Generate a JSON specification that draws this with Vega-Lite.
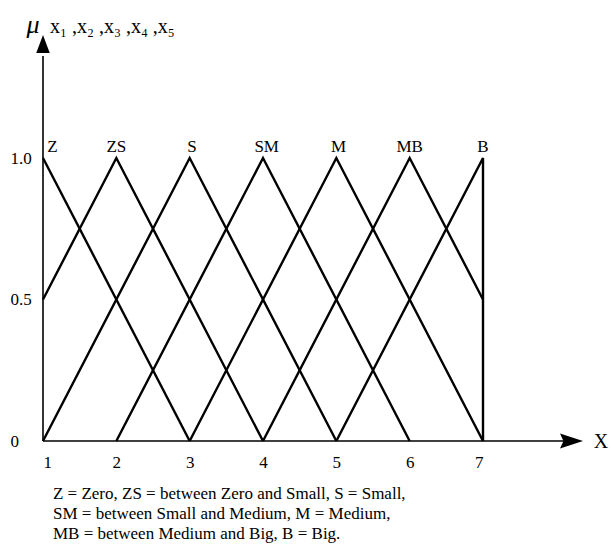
{
  "$schema": "https://vega.github.io/schema/vega-lite/v6.json",
  "width": 440,
  "height": 283,
  "autosize": {"type": "none"},
  "padding": {"left": 43, "top": 158, "right": 128, "bottom": 116},
  "background": "white",
  "config": {
    "view": {"stroke": null},
    "font": "Liberation Serif",
    "text": {"font": "Liberation Serif", "color": "black", "baseline": "middle"}
  },
  "datasets": {
    "membership": [
      {"set": "Z", "i": 0, "x": 1, "y": 1},
      {"set": "Z", "i": 1, "x": 3, "y": 0},
      {"set": "ZS", "i": 0, "x": 1, "y": 0.5},
      {"set": "ZS", "i": 1, "x": 2, "y": 1},
      {"set": "ZS", "i": 2, "x": 4, "y": 0},
      {"set": "S", "i": 0, "x": 1, "y": 0},
      {"set": "S", "i": 1, "x": 3, "y": 1},
      {"set": "S", "i": 2, "x": 5, "y": 0},
      {"set": "SM", "i": 0, "x": 2, "y": 0},
      {"set": "SM", "i": 1, "x": 4, "y": 1},
      {"set": "SM", "i": 2, "x": 6, "y": 0},
      {"set": "M", "i": 0, "x": 3, "y": 0},
      {"set": "M", "i": 1, "x": 5, "y": 1},
      {"set": "M", "i": 2, "x": 7, "y": 0},
      {"set": "MB", "i": 0, "x": 4, "y": 0},
      {"set": "MB", "i": 1, "x": 6, "y": 1},
      {"set": "MB", "i": 2, "x": 7, "y": 0.5},
      {"set": "B", "i": 0, "x": 5, "y": 0},
      {"set": "B", "i": 1, "x": 7, "y": 1},
      {"set": "B", "i": 2, "x": 7, "y": 0}
    ],
    "axisLines": [
      {"x": 1, "y": 0, "x2": 8.2, "y2": 0},
      {"x": 1, "y": 0, "x2": 1, "y2": 1.36}
    ],
    "peakLabels": [
      {"x": 1.13, "y": 1.04, "t": "Z"},
      {"x": 2.0, "y": 1.04, "t": "ZS"},
      {"x": 3.03, "y": 1.04, "t": "S"},
      {"x": 4.05, "y": 1.04, "t": "SM"},
      {"x": 5.03, "y": 1.04, "t": "M"},
      {"x": 6.0, "y": 1.04, "t": "MB"},
      {"x": 7.0, "y": 1.04, "t": "B"}
    ],
    "caption": [
      {"x": 1.136, "y": -0.187, "t": "Z = Zero, ZS = between Zero and Small, S = Small,"},
      {"x": 1.136, "y": -0.258, "t": "SM = between Small and Medium, M = Medium,"},
      {"x": 1.136, "y": -0.329, "t": "MB = between Medium and Big, B = Big."}
    ]
  },
  "encoding": {
    "x": {
      "field": "x",
      "type": "quantitative",
      "scale": {"domain": [1, 7], "nice": false, "zero": false},
      "axis": {
        "values": [1, 2, 3, 4, 5, 6, 7],
        "domain": false,
        "ticks": false,
        "grid": false,
        "title": null,
        "labelPadding": 13,
        "labelFontSize": 17,
        "labelFont": "Liberation Serif",
        "labelColor": "black"
      }
    },
    "y": {
      "field": "y",
      "type": "quantitative",
      "scale": {"domain": [0, 1], "nice": false, "zero": false},
      "axis": {
        "values": [0, 0.5, 1],
        "labelExpr": "datum.value == 0 ? '0' : format(datum.value, '.1f')",
        "domain": false,
        "ticks": false,
        "grid": false,
        "title": null,
        "labelAlign": "left",
        "labelPadding": 33,
        "labelFontSize": 17,
        "labelFont": "Liberation Serif",
        "labelColor": "black"
      }
    }
  },
  "layer": [
    {
      "data": {"name": "axisLines"},
      "mark": {"type": "rule", "color": "black", "strokeWidth": 1.6},
      "encoding": {"x2": {"field": "x2"}, "y2": {"field": "y2"}}
    },
    {
      "data": {"name": "membership"},
      "mark": {"type": "line", "color": "black", "strokeWidth": 2.4, "strokeJoin": "miter"},
      "encoding": {
        "detail": {"field": "set", "type": "nominal"},
        "order": {"field": "i", "type": "quantitative"}
      }
    },
    {
      "data": {"values": [{"x": 1, "y": 1.403}]},
      "mark": {"type": "point", "shape": "M0,-1L0.75,1L-0.75,1Z", "size": 324, "filled": true, "color": "black", "opacity": 1}
    },
    {
      "data": {"values": [{"x": 8.207, "y": 0}]},
      "mark": {"type": "point", "shape": "M1,0L-1,-0.65L-0.7,0L-1,0.65Z", "size": 529, "filled": true, "color": "black", "opacity": 1}
    },
    {
      "data": {"name": "peakLabels"},
      "mark": {"type": "text", "font": "Liberation Serif", "fontSize": 17, "align": "center"},
      "encoding": {"text": {"field": "t"}}
    },
    {
      "data": {"values": [{"x": 8.61, "y": -0.003, "t": "X"}]},
      "mark": {"type": "text", "font": "Liberation Serif", "fontSize": 20, "align": "center"},
      "encoding": {"text": {"field": "t"}}
    },
    {
      "data": {"values": [{"x": 0.864, "y": 1.47, "t": "μ"}]},
      "mark": {"type": "text", "font": "Liberation Serif", "fontSize": 26, "fontStyle": "italic", "align": "center"},
      "encoding": {"text": {"field": "t"}}
    },
    {
      "data": {"values": [{"x": 1.095, "y": 1.463, "t": "x₁ ,x₂ ,x₃ ,x₄ ,x₅"}]},
      "mark": {"type": "text", "font": "Liberation Serif", "fontSize": 20, "align": "left"},
      "encoding": {"text": {"field": "t"}}
    },
    {
      "data": {"name": "caption"},
      "mark": {"type": "text", "font": "Liberation Serif", "fontSize": 17, "align": "left"},
      "encoding": {"text": {"field": "t"}}
    }
  ]
}
